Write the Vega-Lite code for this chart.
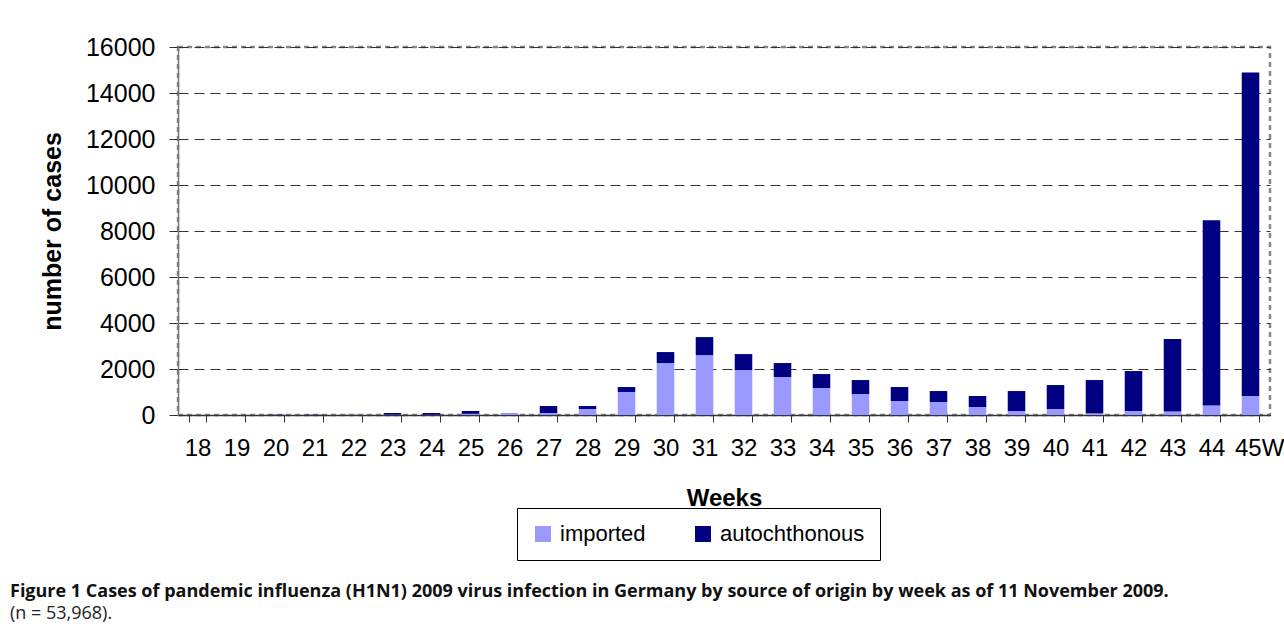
{
  "$schema": "https://vega.github.io/schema/vega-lite/v6.json",
  "autosize": {"type": "none"},
  "width": 1092,
  "height": 368,
  "padding": {"left": 178, "top": 47, "right": 14, "bottom": 228},
  "background": "white",
  "title": {
    "text": "Figure 1 Cases of pandemic influenza (H1N1) 2009 virus infection in Germany by source of origin by week as of 11 November 2009.",
    "subtitle": "(n = 53,968).",
    "orient": "bottom",
    "anchor": "start",
    "frame": "group",
    "dx": -168,
    "offset": 22,
    "font": "Open Sans",
    "fontSize": 18,
    "fontWeight": "bold",
    "color": "#111",
    "subtitleFont": "Open Sans",
    "subtitleFontSize": 18,
    "subtitleFontWeight": "normal",
    "subtitleColor": "#222",
    "subtitlePadding": 4
  },
  "data": {
    "values": [
      {"week": 18, "source": "imported", "cases": 3}, {"week": 18, "source": "autochthonous", "cases": 0},
      {"week": 19, "source": "imported", "cases": 2}, {"week": 19, "source": "autochthonous", "cases": 1},
      {"week": 20, "source": "imported", "cases": 4}, {"week": 20, "source": "autochthonous", "cases": 2},
      {"week": 21, "source": "imported", "cases": 5}, {"week": 21, "source": "autochthonous", "cases": 3},
      {"week": 22, "source": "imported", "cases": 8}, {"week": 22, "source": "autochthonous", "cases": 5},
      {"week": 23, "source": "imported", "cases": 15}, {"week": 23, "source": "autochthonous", "cases": 72},
      {"week": 24, "source": "imported", "cases": 15}, {"week": 24, "source": "autochthonous", "cases": 72},
      {"week": 25, "source": "imported", "cases": 50}, {"week": 25, "source": "autochthonous", "cases": 124},
      {"week": 26, "source": "imported", "cases": 82}, {"week": 26, "source": "autochthonous", "cases": 5},
      {"week": 27, "source": "imported", "cases": 87}, {"week": 27, "source": "autochthonous", "cases": 303},
      {"week": 28, "source": "imported", "cases": 260}, {"week": 28, "source": "autochthonous", "cases": 130},
      {"week": 29, "source": "imported", "cases": 999}, {"week": 29, "source": "autochthonous", "cases": 217},
      {"week": 30, "source": "imported", "cases": 2259}, {"week": 30, "source": "autochthonous", "cases": 478},
      {"week": 31, "source": "imported", "cases": 2606}, {"week": 31, "source": "autochthonous", "cases": 782},
      {"week": 32, "source": "imported", "cases": 1955}, {"week": 32, "source": "autochthonous", "cases": 695},
      {"week": 33, "source": "imported", "cases": 1651}, {"week": 33, "source": "autochthonous", "cases": 608},
      {"week": 34, "source": "imported", "cases": 1173}, {"week": 34, "source": "autochthonous", "cases": 608},
      {"week": 35, "source": "imported", "cases": 912}, {"week": 35, "source": "autochthonous", "cases": 608},
      {"week": 36, "source": "imported", "cases": 608}, {"week": 36, "source": "autochthonous", "cases": 608},
      {"week": 37, "source": "imported", "cases": 565}, {"week": 37, "source": "autochthonous", "cases": 477},
      {"week": 38, "source": "imported", "cases": 348}, {"week": 38, "source": "autochthonous", "cases": 477},
      {"week": 39, "source": "imported", "cases": 175}, {"week": 39, "source": "autochthonous", "cases": 867},
      {"week": 40, "source": "imported", "cases": 260}, {"week": 40, "source": "autochthonous", "cases": 1043},
      {"week": 41, "source": "imported", "cases": 72}, {"week": 41, "source": "autochthonous", "cases": 1448},
      {"week": 42, "source": "imported", "cases": 175}, {"week": 42, "source": "autochthonous", "cases": 1736},
      {"week": 43, "source": "imported", "cases": 150}, {"week": 43, "source": "autochthonous", "cases": 3151},
      {"week": 44, "source": "imported", "cases": 410}, {"week": 44, "source": "autochthonous", "cases": 8061},
      {"week": 45, "source": "imported", "cases": 830}, {"week": 45, "source": "autochthonous", "cases": 14057}
    ]
  },
  "mark": {"type": "bar"},
  "encoding": {
    "x": {
      "field": "week",
      "type": "ordinal",
      "scale": {"paddingInner": 0.55, "paddingOuter": 0.275},
      "axis": {
        "title": "Weeks",
        "titleFont": "Liberation Sans",
        "titleFontSize": 24,
        "titleFontWeight": "bold",
        "titleColor": "black",
        "titlePadding": 26,
        "labelFont": "Liberation Sans",
        "labelFontSize": 24,
        "labelColor": "black",
        "labelAngle": 0,
        "labelPadding": 14,
        "labelExpr": "datum.value == 45 ? '45W' : datum.label",
        "labelAlign": {"condition": {"test": "datum.value == 45", "value": "left"}, "value": "center"},
        "labelOffset": {"condition": {"test": "datum.value == 45", "value": -16}, "value": 0},
        "tickBand": "extent",
        "tickSize": 7,
        "tickColor": "#333",
        "domainColor": "#333",
        "domainWidth": 1.5,
        "grid": false
      }
    },
    "y": {
      "field": "cases",
      "type": "quantitative",
      "stack": "zero",
      "scale": {"domain": [0, 16000], "nice": false},
      "axis": {
        "title": "number of cases",
        "titleFont": "Liberation Sans",
        "titleFontSize": 25,
        "titleFontWeight": "bold",
        "titleColor": "black",
        "titlePadding": 20,
        "labelFont": "Liberation Sans",
        "labelFontSize": 25,
        "labelColor": "black",
        "labelPadding": 14,
        "values": [0, 2000, 4000, 6000, 8000, 10000, 12000, 14000, 16000],
        "format": "d",
        "tickSize": 9,
        "tickColor": "#333",
        "domainColor": "#777",
        "domainWidth": 1.5,
        "grid": true,
        "gridColor": "#333",
        "gridDash": [10, 6],
        "gridWidth": 1
      }
    },
    "color": {
      "field": "source",
      "type": "nominal",
      "scale": {"domain": ["imported", "autochthonous"], "range": ["#9999FF", "#000080"]},
      "legend": {
        "title": null,
        "orient": "none",
        "legendX": 339,
        "legendY": 461,
        "direction": "horizontal",
        "symbolType": "square",
        "symbolSize": 256,
        "symbolStrokeWidth": 0,
        "labelFont": "Liberation Sans",
        "labelFontSize": 22,
        "labelColor": "black",
        "labelOffset": 6,
        "columnPadding": 46,
        "padding": 15,
        "strokeColor": "black"
      }
    },
    "order": {"field": "source", "sort": "descending"}
  },
  "config": {
    "view": {"stroke": "#888", "strokeDash": [5, 4], "strokeWidth": 2.5}
  }
}
